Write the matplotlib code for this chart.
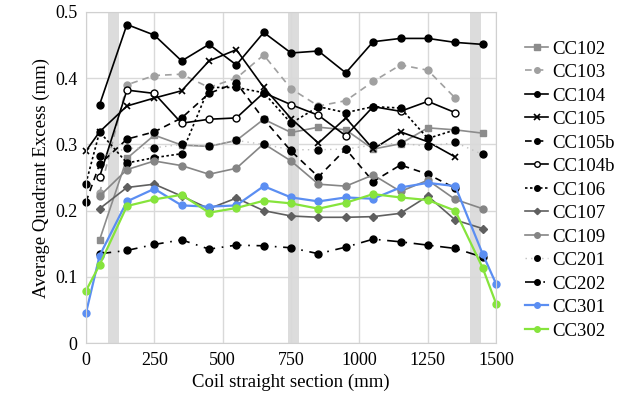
import numpy as np
import matplotlib
matplotlib.use('Agg')
import matplotlib.pyplot as plt

plt.rcParams['font.family'] = ['Liberation Serif', 'DejaVu Serif']

# data
x_main = [50, 150, 250, 350, 450, 550, 650, 750, 850, 950, 1050, 1150, 1250, 1350, 1450]
x_zero = [0] + x_main[:-1]
x_full = [0] + x_main + [1500]

cc102 = [0.156, 0.279, 0.314, 0.299, 0.297, 0.306, 0.338, 0.318, 0.326, 0.322, 0.293, 0.301, 0.325, 0.322, 0.317]
cc103 = [0.226, 0.390, 0.404, 0.406, 0.386, 0.400, 0.435, 0.384, 0.358, 0.366, 0.395, 0.420, 0.412, 0.370]
cc104 = [0.360, 0.481, 0.465, 0.426, 0.451, 0.420, 0.469, 0.438, 0.441, 0.408, 0.455, 0.460, 0.460, 0.454, 0.451]
cc105 = [0.290, 0.319, 0.358, 0.370, 0.381, 0.426, 0.443, 0.386, 0.339, 0.302, 0.340, 0.293, 0.319, 0.304, 0.281]
cc105b = [0.213, 0.270, 0.308, 0.319, 0.340, 0.377, 0.393, 0.338, 0.290, 0.251, 0.293, 0.244, 0.269, 0.255, 0.234]
cc104b = [0.251, 0.382, 0.377, 0.332, 0.338, 0.340, 0.378, 0.360, 0.344, 0.313, 0.357, 0.350, 0.365, 0.348]
cc106 = [0.241, 0.319, 0.272, 0.280, 0.286, 0.386, 0.386, 0.378, 0.332, 0.357, 0.348, 0.357, 0.355, 0.309, 0.322]
cc107 = [0.203, 0.235, 0.240, 0.222, 0.203, 0.219, 0.200, 0.192, 0.190, 0.190, 0.191, 0.196, 0.222, 0.186, 0.173]
cc109 = [0.222, 0.262, 0.275, 0.268, 0.255, 0.264, 0.301, 0.275, 0.240, 0.237, 0.254, 0.229, 0.246, 0.217, 0.203]
cc201 = [0.282, 0.294, 0.295, 0.300, 0.297, 0.306, 0.300, 0.292, 0.292, 0.293, 0.299, 0.302, 0.297, 0.303, 0.285]
cc202 = [0.135, 0.140, 0.149, 0.156, 0.142, 0.148, 0.147, 0.144, 0.135, 0.145, 0.157, 0.153, 0.148, 0.143, 0.130]
cc301 = [0.045, 0.132, 0.214, 0.233, 0.208, 0.206, 0.208, 0.237, 0.220, 0.214, 0.220, 0.218, 0.235, 0.242, 0.237, 0.135, 0.089]
cc302 = [0.079, 0.118, 0.207, 0.217, 0.224, 0.197, 0.204, 0.215, 0.211, 0.203, 0.212, 0.225, 0.220, 0.216, 0.200, 0.114, 0.059]

bands = [(80, 120), (740, 778), (1405, 1445)]

fig = plt.figure(figsize=(6.18, 4.11), dpi=100)
ax = fig.add_axes([0.139, 0.165, 0.664, 0.806])

for a, b in bands:
    ax.axvspan(a, b, color='#dcdcdc', lw=0, zorder=0)

ms = 5
kw = dict(ms=ms, lw=1.2, clip_on=False)
ax.plot(x_main, cc102, color='#8c8c8c', marker='s', label='CC102', **kw)
ax.plot(x_main[:-1], cc103, color='#a0a0a0', marker='o', ls=(0, (4, 3)), label='CC103', **kw)
ax.plot(x_main, cc104, color='black', marker='o', label='CC104', **kw)
ax.plot(x_zero, cc105, color='black', marker='x', mew=1.2, label='CC105', **kw)
ax.plot(x_zero, cc105b, color='black', marker='o', ls=(0, (4, 3)), label='CC105b', **kw)
ax.plot(x_main[:-1], cc104b, color='black', marker='o', mfc='white', label='CC104b', **kw)
ax.plot(x_zero, cc106, color='black', marker='o', ls=(0, (1.5, 1.5)), label='CC106', **kw)
ax.plot(x_main, cc107, color='#5f5f5f', marker='D', ms=4, lw=1.2, clip_on=False, label='CC107')
ax.plot(x_main, cc109, color='#858585', marker='o', label='CC109', **kw)
ax.plot(x_main, cc201, color='#c0c0c0', marker='o', ms=ms, mfc='black', mec='black', lw=1.0,
        ls=(0, (1, 3)), clip_on=False, label='CC201')
ax.plot(x_main, cc202, color='black', marker='o', ls=(0, (7, 4, 1, 4)), label='CC202', **kw)
ax.plot(x_full, cc301, color='#5b8ef2', marker='o', ms=ms, lw=1.6, clip_on=False, label='CC301')
ax.plot(x_full, cc302, color='#86e43c', marker='o', ms=ms, lw=1.6, clip_on=False, label='CC302')

ax.set_xlim(0, 1500)
ax.set_ylim(0, 0.5)
ax.set_xticks([0, 250, 500, 750, 1000, 1250, 1500])
ax.set_yticks([0, 0.1, 0.2, 0.3, 0.4, 0.5])
ax.set_yticklabels(['0', '0.1', '0.2', '0.3', '0.4', '0.5'])
ax.grid(True, color='#d9d9d9', lw=1.0, zorder=0)
ax.set_axisbelow(True)
for s in ax.spines.values():
    s.set_color('#d0d0d0')
ax.tick_params(length=0, labelsize=13, pad=6)
ax.set_xlabel('Coil straight section (mm)', fontsize=13.5)
ax.set_ylabel('Average Quadrant Excess (mm)', fontsize=13.5)

fig.legend(loc='upper left', bbox_to_anchor=(0.838, 0.92), frameon=False,
           fontsize=13.5, handlelength=1.2, handletextpad=0.25, labelspacing=0.34,
           markerscale=0.8, borderaxespad=0)

plt.savefig('out.png', dpi=100)
